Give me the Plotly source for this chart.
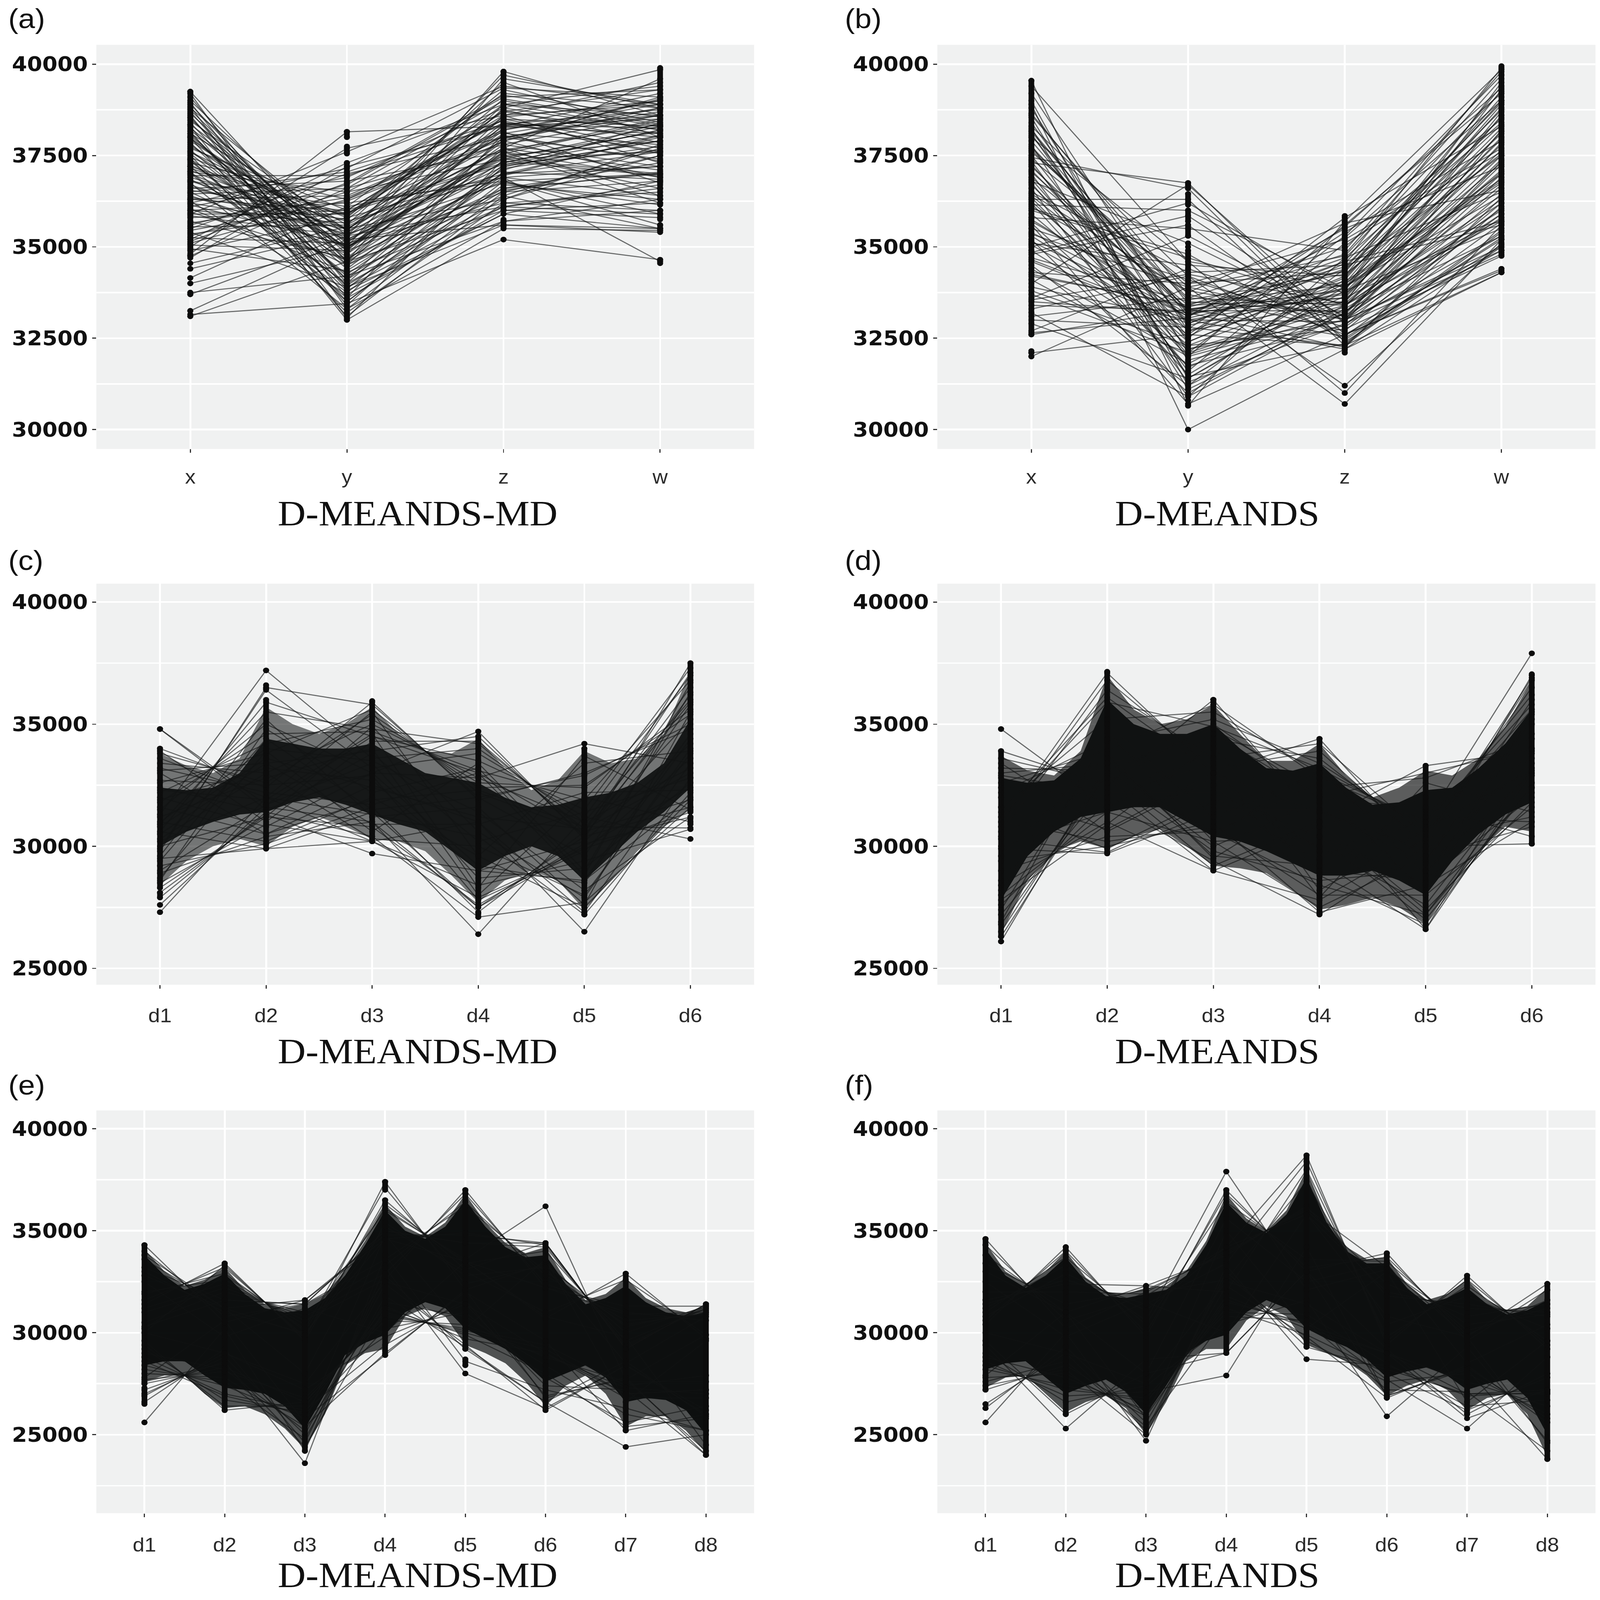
import plotly.graph_objects as go

W, H = 4252, 4608
CAT4 = ["x", "y", "z", "w"]
CAT6 = ["d1", "d2", "d3", "d4", "d5", "d6"]
CAT8 = ["d1", "d2", "d3", "d4", "d5", "d6", "d7", "d8"]
TAGS = ["(a)", "(b)", "(c)", "(d)", "(e)", "(f)"]
CAPS = ["D-MEANDS-MD", "D-MEANDS"] * 3
TICKS_A = [30000, 32500, 35000, 37500, 40000]
MINOR_A = [31250, 33750, 36250, 38750]
TICKS_C = [25000, 30000, 35000, 40000]
MINOR_C = [27500, 32500, 37500]
MINOR_E = [22500, 27500, 32500, 37500]

# values in thousands, one row per polyline
A_ROWS = [
[33.15,33.45,35.2,34.65],[33.25,35.2,35.6,35.5],[33.1,34.6,36.0,36.2],[33.7,35.3,36.1,35.9],[33.75,34.2,35.7,36.3],
[34.0,35.0,36.8,37.0],[34.15,36.1,36.9,36.4],[34.4,35.4,37.5,37.9],[34.7,37.2,38.3,38.1],[34.75,36.6,37.8,37.2],
[34.8,38.15,38.3,38.5],[34.9,35.8,37.0,37.6],[35.0,37.7,38.6,38.9],[35.05,34.9,36.5,36.8],[35.1,36.3,38.4,38.0],
[35.2,37.3,38.9,38.6],[35.25,35.1,36.2,36.0],[35.3,36.5,37.4,37.0],[35.4,33.9,35.6,35.4],[35.5,37.0,38.0,37.4],
[35.55,35.6,37.9,38.8],[35.6,36.7,39.1,39.3],[35.7,34.7,36.6,37.3],[35.8,36.0,37.3,38.2],[35.85,35.3,38.1,37.8],
[35.9,37.6,39.4,38.9],[36.0,36.2,36.8,35.6],[36.05,34.3,36.1,36.6],[36.1,36.9,38.8,38.2],[36.2,35.5,37.7,37.1],
[36.25,33.7,35.9,36.8],[36.3,36.4,38.2,39.0],[36.4,35.0,37.1,38.4],[36.45,36.6,39.0,38.3],[36.5,34.5,36.4,35.5],
[36.55,35.9,38.5,37.7],[36.6,36.8,37.6,36.9],[36.7,35.2,37.2,37.9],[36.75,33.3,35.7,36.0],[36.8,36.1,39.2,38.8],
[36.85,34.8,37.8,38.6],[36.9,35.7,36.9,37.2],[37.0,34.0,36.3,37.5],[37.05,36.5,38.7,38.1],[37.1,35.4,38.3,39.2],
[37.2,33.6,36.0,35.8],[37.25,35.0,37.5,36.6],[37.3,36.3,38.0,38.7],[37.4,34.6,37.0,38.0],[37.45,35.8,39.3,38.4],
[37.5,33.2,36.2,36.5],[37.6,35.5,37.7,39.6],[37.65,34.2,36.6,37.0],[37.7,36.0,38.6,37.3],[37.8,34.9,38.2,38.9],
[37.85,33.8,35.9,35.5],[37.9,35.2,37.3,38.2],[38.0,33.1,36.4,37.7],[38.05,34.4,37.6,38.5],[38.1,35.6,39.5,38.0],
[38.15,33.5,36.7,36.3],[38.2,34.7,37.9,39.1],[38.3,33.0,35.5,35.45],[38.35,35.1,38.4,37.6],[38.55,34.1,36.9,34.6],
[38.6,33.4,37.2,37.9],[38.65,34.8,38.8,39.85],[38.7,33.9,36.1,36.7],[38.8,35.3,39.7,38.8],[38.85,33.05,37.4,38.3],
[38.9,34.5,37.0,37.2],[38.95,33.6,38.1,38.8],[39.0,35.0,39.8,38.6],[39.1,34.0,37.7,36.4],[39.2,33.3,36.5,37.5],
[39.25,34.6,39.6,38.9],[36.15,35.05,37.55,38.45],[36.35,35.75,38.9,39.4],[35.35,35.95,37.25,37.65],[34.95,34.35,36.95,38.05],
[37.15,35.85,38.55,39.0],[37.55,34.25,37.15,37.75],[36.95,36.95,38.35,38.75],[35.65,36.35,38.15,36.75],[37.75,35.45,39.05,38.35],
[36.65,35.35,36.75,36.15],[38.25,34.95,38.25,38.6],[37.35,33.95,36.55,37.05],[35.45,36.25,37.95,39.05],[35.95,34.65,37.35,36.95],
[38.45,35.45,38.75,37.85],[36.5,37.05,38.45,37.55],[37.95,35.15,37.45,38.15],[36.0,35.65,38.05,37.35],[38.75,34.6,38.35,38.25],
[35.15,36.75,39.15,38.55],[37.05,33.75,37.05,36.85],[36.2,37.15,39.35,39.1],[34.55,35.55,37.65,38.35],[38.4,33.85,37.25,38.05],
[38.0,34.5,38.6,39.5],[37.6,35.0,37.6,36.2],[37.2,35.9,38.7,39.3],[38.5,34.9,38.9,38.2],[36.8,35.5,36.3,37.8],
[37.4,33.5,36.8,35.9],[38.1,34.1,38.0,38.6],[35.9,35.9,37.9,36.9],[36.3,36.0,38.5,38.3],[37.0,35.3,37.4,37.6],
]
A_COLS = [[(34.75,38.35),(38.55,39.25)],[(33.0,37.3),(37.55,37.75),(38.0,38.15)],[(36.0,39.8),(35.55,35.75)],[(36.3,39.9),(35.45,35.6),(35.75,36.0),(34.55,34.65)]]
A_DOTS = [[34.4,34.15,34.0,33.75,33.7,33.25,33.1],[],[35.2],[36.2]]

B_ROWS = [
[32.0,33.9,33.0,35.0],[32.1,32.6,32.3,34.3],[32.6,33.3,33.8,35.5],[32.7,34.4,33.0,34.9],[32.9,31.4,33.9,37.0],
[33.0,32.8,32.3,35.4],[33.1,33.6,33.4,36.2],[33.2,30.9,34.7,36.5],[33.3,34.2,32.6,34.4],[33.5,33.2,34.7,38.4],
[33.6,35.3,33.1,35.9],[33.7,32.1,33.5,37.5],[33.9,33.0,32.2,35.0],[34.0,36.7,32.9,34.8],[34.1,31.8,34.0,36.8],
[34.2,33.4,33.6,38.0],[34.3,34.0,35.2,37.7],[34.5,31.2,33.4,35.7],[34.6,32.9,34.4,39.0],[34.7,33.5,33.2,36.6],
[34.8,35.6,32.5,35.2],[34.9,32.2,33.0,38.2],[35.0,36.2,33.7,37.3],[35.1,34.5,34.2,39.4],[35.2,31.0,33.3,36.0],
[35.3,32.6,35.4,37.9],[35.4,33.1,34.6,35.7],[35.5,34.1,32.8,35.9],[35.6,30.7,32.6,34.9],[35.7,33.3,33.5,38.6],
[35.8,35.5,34.9,39.8],[35.9,32.3,33.9,36.4],[36.0,34.7,33.4,37.1],[36.1,33.8,33.1,36.7],[36.2,31.5,34.1,38.8],
[36.3,36.3,32.3,36.1],[36.35,32.0,35.6,39.2],[36.4,33.0,33.7,37.8],[36.5,34.3,34.5,35.6],[36.6,30.9,33.2,37.4],
[36.7,32.5,35.8,38.3],[36.8,35.1,33.0,36.9],[36.9,33.4,34.8,39.6],[37.0,31.3,32.9,35.3],[37.1,32.7,34.0,38.9],
[37.2,33.2,33.6,35.75],[37.3,36.75,32.6,34.35],[37.35,31.6,35.1,37.6],[37.4,34.0,34.3,39.1],[37.5,32.2,33.4,36.3],
[37.6,33.9,30.7,35.2],[37.7,33.6,35.0,38.5],[37.8,31.1,33.2,37.0],[37.9,32.9,34.6,39.9],[38.0,34.6,33.9,36.75],
[38.1,31.9,33.0,35.8],[38.2,33.1,35.5,37.2],[38.3,34.2,31.2,35.1],[38.4,32.4,34.2,38.1],[38.55,31.4,33.8,39.3],
[38.6,33.7,32.7,36.2],[38.8,32.1,35.3,39.7],[38.9,30.0,32.2,34.3],[39.0,31.2,34.4,37.5],[39.2,32.7,33.5,38.7],
[39.4,34.6,31.0,35.6],[39.55,30.65,35.7,39.85],[37.45,36.6,32.4,35.05],[36.15,36.0,33.85,39.5],[34.4,32.0,33.15,37.25],
[33.4,33.25,33.25,35.3],[32.65,33.05,34.05,36.85],[35.75,33.15,33.85,38.15],[37.05,33.3,32.55,35.65],[34.65,33.0,32.95,37.35],
[36.25,32.4,34.15,38.55],[38.15,33.2,32.25,36.35],[35.15,33.1,35.25,39.0],[36.75,31.7,33.65,37.65],[33.8,32.3,32.75,34.75],
[37.75,33.25,34.35,38.35],[34.85,35.85,33.05,36.05],[36.05,34.8,32.45,35.25],[38.05,32.85,33.75,37.95],[35.35,33.9,34.75,39.25],
[37.25,32.55,34.55,38.95],[35.65,31.75,32.85,36.45],[33.55,34.25,33.45,37.05],[38.65,33.45,33.95,38.25],[36.45,33.75,35.65,36.55],
[36.85,32.05,33.35,37.85],[34.25,33.35,34.45,38.75],[38.25,31.45,32.35,35.45],[35.05,32.75,35.55,39.35],[37.65,33.55,34.25,37.55],
]
B_COLS = [[(32.6,39.55)],[(31.1,34.9),(35.3,35.6),(35.7,36.0),(36.15,36.45),(36.6,36.75)],[(32.1,35.85)],[(34.85,39.95),(34.3,34.4)]]
B_DOTS = [[32.0,32.1,32.15],[30.0,30.65,30.8,30.95,35.0],[30.7,31.0,31.2],[]]

C_ROWS = [
[34.8,31.5,33.0,32.8,31.0,33.2],[34.8,31.7,34.5,33.0,30.5,35.2],[34.0,32.4,35.9,31.9,33.0,34.8],[33.8,32.6,35.4,32.4,32.5,35.4],
[31.5,35.0,33.0,34.7,30.3,37.5],[31.8,34.6,34.7,33.1,31.9,36.8],[32.2,34.2,35.2,32.6,32.4,35.6],[32.6,33.8,35.6,32.2,30.6,37.1],
[30.6,35.9,34.5,33.5,31.5,37.3],[30.9,35.5,34.8,34.2,30.7,36.5],[33.4,33.0,35.0,32.8,34.2,33.4],[33.1,33.4,33.9,34.5,30.4,36.2],
[29.8,36.5,35.8,32.0,32.9,35.0],[29.9,36.4,33.2,33.8,31.2,37.0],[31.3,37.2,33.6,34.0,31.0,36.0],[33.9,31.0,34.3,34.3,30.6,35.9],
[28.3,31.2,30.8,27.6,30.1,31.2],[28.5,30.9,30.2,27.9,29.9,31.4],[28.9,30.4,31.0,27.5,30.4,31.6],[29.2,30.1,31.6,27.3,30.6,31.9],
[30.6,29.9,31.4,27.5,30.0,32.4],[29.5,29.9,30.2,31.0,26.5,32.8],[28.1,31.3,29.7,29.0,28.6,32.0],[27.9,31.4,30.4,27.1,27.7,31.6],
[27.6,31.6,31.0,26.4,31.2,30.3],[27.3,32.0,30.2,28.4,29.4,30.7],[30.2,32.0,31.3,30.4,27.2,32.2],[31.0,30.2,32.0,29.6,27.5,31.9],
[31.6,30.5,32.5,31.0,27.3,33.4],[29.0,31.7,33.4,28.7,29.1,32.6],[30.3,33.0,30.3,30.0,28.0,33.8],[32.0,30.8,33.0,29.2,28.5,34.4],
[33.2,32.2,31.7,33.0,28.6,34.6],[30.8,33.6,32.4,31.2,30.7,33.0],[31.2,32.8,34.0,28.0,32.0,31.0],[29.4,34.4,31.5,32.0,29.6,35.8],
[32.4,31.4,33.8,30.2,31.4,32.8],[31.9,33.2,32.7,29.0,30.2,34.2],[28.7,33.9,30.6,33.4,29.0,36.3],[30.0,31.2,34.9,30.6,27.9,34.0],
[33.0,30.5,31.9,32.3,30.8,30.75],[32.7,32.5,32.9,27.8,29.8,33.6],[29.6,35.2,31.2,31.6,27.6,35.5],[31.0,34.0,33.5,31.4,28.2,31.2],
[33.6,32.0,35.5,29.6,33.4,33.9],[28.6,34.8,32.2,33.2,28.8,36.7],[30.5,33.4,30.9,30.9,32.2,32.3],[32.3,31.9,34.6,28.3,33.7,31.5],
]
C_COLS = [[(28.3,34.0),(27.9,28.1)],[(29.9,36.0),(36.45,36.6)],[(30.2,35.95)],[(27.5,34.5),(27.1,27.25)],[(27.2,34.0)],[(31.45,37.0),(37.1,37.5),(30.9,31.15)]]
C_DOTS = [[34.8,27.6,27.3],[37.2],[29.7],[34.7,26.4],[34.2,26.5],[30.7,30.3]]
C_OUT_HI = [33.8,33.3,33.0,33.6,35.7,35.0,34.6,35.0,35.7,34.6,33.9,33.8,34.4,33.2,32.3,32.7,33.9,33.4,33.6,34.6,37.2]
C_OUT_LO = [28.4,29.4,30.0,30.3,30.0,30.8,31.2,30.8,30.3,30.2,29.8,28.8,27.7,28.6,29.0,28.6,27.4,28.6,29.8,30.8,31.5]
C_IN_HI = [32.4,32.3,32.4,33.0,34.4,34.2,34.0,34.0,34.2,33.6,33.0,32.8,32.6,32.0,31.6,31.7,32.0,32.2,32.6,33.4,35.2]
C_IN_LO = [30.0,30.6,31.0,31.3,31.4,31.8,32.0,31.7,31.3,30.9,30.6,29.8,29.0,29.6,30.0,29.6,28.6,29.6,30.6,31.4,32.4]

D_ROWS = [
[34.8,31.6,34.6,32.0,31.5,33.6],[33.9,32.5,36.0,31.0,33.3,33.9],[33.6,32.6,35.0,32.0,33.0,34.0],[31.0,37.1,33.0,34.4,29.6,37.0],
[30.8,36.8,33.2,33.9,30.0,36.8],[30.6,36.4,33.6,34.2,30.4,36.5],[31.2,35.9,34.9,33.2,30.8,36.2],[31.6,35.2,35.5,33.0,31.0,35.8],
[32.6,33.9,35.8,32.8,31.0,37.9],[32.2,34.3,35.2,33.4,30.6,35.6],[33.2,33.1,34.8,32.4,32.8,34.4],[33.0,33.4,34.4,33.6,30.2,36.9],
[26.1,33.4,30.4,33.2,28.8,35.0],[26.3,33.0,30.6,32.6,28.0,35.4],[26.5,33.2,30.0,31.8,26.6,33.8],[26.8,32.9,29.8,28.6,29.0,33.0],
[27.2,32.4,29.0,30.8,27.2,33.0],[27.6,31.8,29.4,27.2,30.0,30.1],[28.0,31.4,30.2,27.5,29.6,30.8],[28.4,31.0,29.0,27.8,30.3,31.2],
[29.0,30.4,30.6,28.4,27.2,32.4],[29.4,30.0,31.0,27.3,28.4,31.0],[29.9,29.7,31.4,28.8,26.8,32.6],[30.3,29.75,31.8,29.4,26.6,32.9],
[31.0,30.2,30.8,28.0,28.0,31.6],[31.6,29.9,32.0,30.0,27.6,33.2],[30.0,31.4,32.5,29.0,28.6,32.0],[32.0,30.7,33.0,29.8,29.0,34.0],
[32.8,31.6,34.0,30.8,32.0,32.2],[32.4,32.0,33.4,27.9,32.6,31.4],[28.2,35.0,31.2,33.0,29.4,35.2],[27.4,34.4,31.5,31.5,29.3,36.0],
[29.6,33.8,29.5,32.2,28.2,34.6],[31.4,36.1,33.0,31.4,29.8,33.4],[26.9,34.7,30.2,30.4,27.0,32.4],[30.4,32.8,29.2,31.0,27.4,31.8],
[33.4,30.6,32.8,29.5,31.6,30.4],[28.6,33.6,29.6,29.2,31.2,31.0],[27.8,30.9,34.2,28.2,30.7,33.1],[32.9,32.2,32.2,30.4,28.5,35.5],
]
D_COLS = [[(26.3,33.9)],[(29.75,37.15)],[(29.0,35.8),(35.9,36.0)],[(27.25,34.4)],[(26.6,33.3)],[(30.1,36.9),(37.0,37.05)]]
D_DOTS = [[34.8,26.1],[],[36.0],[],[],[37.9,30.1]]
D_OUT_HI = [33.7,33.1,32.9,33.9,37.0,35.6,35.0,35.2,35.8,34.6,33.5,33.5,34.2,32.9,32.0,32.4,33.1,32.9,33.6,34.9,36.8]
D_OUT_LO = [26.4,28.6,29.8,30.2,29.9,30.4,30.7,30.0,29.2,29.1,28.9,28.2,27.4,27.6,27.9,27.5,26.8,28.4,29.8,30.8,30.6]
D_IN_HI = [32.8,32.6,32.7,33.6,36.0,35.0,34.6,34.6,35.0,34.0,33.2,33.1,33.4,32.4,31.7,31.8,32.3,32.4,33.2,34.2,35.6]
D_IN_LO = [27.8,29.6,30.6,31.2,31.4,31.6,31.6,31.0,30.4,30.2,29.8,29.3,28.8,28.8,29.0,28.6,28.0,29.4,30.5,31.3,31.8]

E_ROWS = [
[34.3,30.5,31.6,34.8,34.8,34.4,29.2,31.4],[34.0,30.8,31.4,35.0,34.4,34.2,29.4,31.2],[33.6,31.2,31.6,34.6,34.9,34.3,29.3,31.3],
[33.2,31.6,31.4,35.0,34.4,34.4,29.2,31.4],[31.4,33.4,29.6,36.5,33.1,34.4,29.2,31.4],[31.6,33.2,29.8,36.3,33.4,34.0,29.6,31.2],
[31.9,32.9,30.1,36.1,33.5,32.2,31.3,31.3],[32.0,32.6,30.4,36.0,33.6,36.2,27.7,29.9],[30.0,33.3,29.7,37.4,32.1,33.4,30.0,31.3],
[30.2,32.8,30.2,37.1,32.4,33.3,30.3,31.1],[31.2,32.4,30.6,32.6,37.0,32.2,30.9,31.0],[31.0,32.2,30.8,32.9,36.8,32.4,31.0,30.6],
[30.5,32.0,31.0,33.3,36.4,32.8,30.6,30.9],[30.3,31.6,31.4,33.6,36.2,33.0,30.4,31.0],[33.0,31.0,30.0,34.6,33.5,30.7,32.9,29.7],[32.8,31.2,29.9,35.2,33.0,31.0,32.6,29.9],
[27.5,28.3,26.6,30.8,30.2,29.4,27.4,27.9],[27.7,28.1,26.8,30.6,30.4,28.8,27.6,27.6],[29.6,26.2,26.6,30.9,30.1,29.2,27.0,27.2],
[29.4,26.4,26.4,31.0,30.0,28.9,27.3,27.0],[29.2,26.7,26.1,31.3,29.7,29.0,26.8,26.8],[25.6,30.2,24.2,33.2,28.0,26.3,28.4,26.0],
[26.6,29.2,24.6,32.8,29.2,26.6,28.6,25.9],[27.0,28.8,25.0,32.4,29.4,26.2,28.4,26.2],[27.2,28.6,23.6,33.8,28.6,27.2,26.3,25.2],
[28.0,27.8,25.4,29.0,32.0,29.6,25.2,26.0],[28.4,27.4,25.8,28.9,32.1,26.8,27.8,24.0],[28.8,27.0,26.2,29.4,31.6,26.9,27.7,24.2],
[26.9,29.0,27.2,29.8,31.4,27.4,27.2,24.0],[28.2,27.6,24.8,31.8,29.3,26.6,24.4,25.0],[27.6,28.5,24.4,31.2,29.9,28.0,25.4,25.8],
[28.6,26.9,26.0,30.2,31.0,27.8,25.6,26.4],[29.0,28.2,25.2,31.5,30.8,28.4,26.0,25.2],[30.0,29.0,27.5,32.5,31.4,29.0,27.0,27.2],
[33.8,31.2,28.0,35.4,32.8,33.2,28.5,30.8],[32.5,29.8,31.2,30.0,33.5,30.8,29.8,24.5],[27.8,30.6,25.6,34.8,30.2,33.6,26.6,29.6],
]
E_COLS = [[(27.5,34.3),(26.5,27.3)],[(26.2,33.4)],[(24.2,31.6)],[(29.1,36.5),(37.0,37.4)],[(29.2,37.0),(28.4,28.7)],[(26.2,34.4)],[(25.2,32.9)],[(24.0,31.4)]]
E_DOTS = [[25.6],[],[23.6],[28.9],[28.0],[36.2],[24.4],[]]
E_OUT_HI = [34.1,33.0,32.3,32.6,33.2,32.1,31.4,31.2,31.4,31.9,33.0,34.5,36.3,35.2,34.7,35.4,36.8,35.4,34.4,33.9,34.2,32.6,31.6,31.9,32.7,31.7,31.2,31.0,31.3]
E_OUT_LO = [27.6,27.9,27.9,27.0,26.3,26.4,26.0,25.3,24.3,26.0,28.4,29.0,29.2,30.8,31.2,30.8,29.4,29.0,28.5,27.6,26.4,27.4,27.9,27.0,25.4,25.9,25.9,25.2,24.1]
E_IN_HI = [33.8,32.8,32.1,32.4,32.9,31.9,31.2,31.0,31.1,31.7,32.8,34.3,36.0,35.0,34.6,35.2,36.5,35.2,34.2,33.7,33.8,32.4,31.4,31.7,32.3,31.5,31.0,30.8,31.0]
E_IN_LO = [28.4,28.6,28.6,27.9,27.3,27.2,27.0,26.4,25.3,27.0,28.9,29.5,29.9,31.0,31.5,31.2,30.2,29.7,29.2,28.5,27.6,28.0,28.4,27.8,26.6,26.8,26.7,26.2,25.0]

F_ROWS = [
[34.6,30.2,32.0,34.0,36.0,32.4,30.8,31.4],[34.3,30.6,31.8,34.2,35.8,32.0,31.2,31.0],[33.8,31.0,32.3,33.8,36.2,31.8,31.4,30.8],
[33.4,31.4,32.1,33.9,36.1,33.2,29.8,32.4],[30.4,34.2,29.8,37.0,33.0,33.9,29.6,32.1],[30.6,34.0,30.0,36.8,33.2,33.7,29.9,31.6],
[31.0,33.7,30.4,36.4,33.6,33.5,30.1,31.2],[31.2,33.3,30.6,37.9,32.1,33.1,30.4,30.9],[30.8,32.9,31.1,34.2,38.7,29.4,32.8,29.2],
[31.4,32.6,31.4,33.4,38.4,29.6,32.6,29.4],[31.6,32.4,32.3,32.0,38.0,29.8,32.3,29.6],[32.0,32.0,31.9,32.6,37.4,30.4,31.8,30.2],
[27.2,28.4,26.0,31.8,30.2,29.0,27.6,26.4],[27.4,28.2,25.0,33.0,29.3,28.2,27.0,27.0],[26.5,29.0,25.2,32.8,29.6,27.6,28.0,26.0],
[26.3,29.3,25.6,32.3,29.8,26.8,28.4,25.6],[25.6,30.0,24.7,33.3,28.7,28.4,26.9,27.1],[29.6,26.0,28.0,29.0,33.0,29.2,26.0,28.0],
[29.4,25.3,28.7,29.0,33.0,26.9,28.3,25.8],[29.0,26.6,27.4,30.4,31.6,25.9,29.3,24.7],[28.6,26.9,27.1,27.9,34.2,26.9,28.2,23.8],
[28.2,27.4,26.6,31.2,29.9,28.0,26.2,27.8],[27.8,28.0,25.9,31.5,30.5,27.2,27.1,24.2],[27.6,28.6,25.4,30.8,30.6,27.7,25.3,28.8],
[28.4,27.2,26.8,31.0,30.9,28.5,26.4,26.7],[28.8,27.8,26.2,31.6,30.4,29.0,25.8,27.2],[30.0,29.0,27.5,32.5,31.4,29.0,27.0,27.2],
[33.0,31.0,28.0,35.6,32.5,33.4,28.5,30.4],[32.5,29.8,31.5,30.0,35.8,30.8,29.8,24.6],[27.9,31.0,25.8,35.0,30.2,33.0,26.6,29.6],
]
F_COLS = [[(27.2,34.6)],[(26.0,34.2)],[(25.0,32.3)],[(29.0,37.0)],[(29.3,38.7)],[(26.8,33.9)],[(26.0,32.8)],[(23.8,32.4)]]
F_DOTS = [[26.5,26.3,25.6],[25.3],[24.7],[37.9,27.9],[28.7],[25.9],[25.3],[]]
F_OUT_HI = [34.4,33.0,32.4,33.0,34.0,32.7,32.0,31.9,32.2,32.3,33.0,34.5,36.8,35.6,35.0,36.0,38.0,35.6,34.2,33.6,33.7,32.4,31.6,31.9,32.6,31.6,31.1,31.3,32.2]
F_OUT_LO = [27.3,27.8,27.9,27.0,26.1,26.6,26.9,26.3,25.0,26.6,28.6,29.2,29.2,30.6,31.3,30.8,29.4,29.0,28.6,27.9,26.9,27.4,27.7,27.2,26.2,26.8,27.0,26.0,23.9]
F_IN_HI = [34.1,32.8,32.2,32.8,33.7,32.5,31.8,31.7,31.9,32.1,32.8,34.3,36.4,35.4,34.9,35.8,37.6,35.4,34.0,33.4,33.4,32.2,31.4,31.7,32.2,31.4,30.9,31.1,31.6]
F_IN_LO = [28.2,28.5,28.6,27.8,27.0,27.4,27.7,27.1,26.0,27.4,29.0,29.6,29.9,31.0,31.6,31.2,30.2,29.7,29.3,28.7,27.8,28.1,28.3,27.9,27.2,27.5,27.7,26.8,25.0]

PANELS = [
 dict(cats=CAT4, rows=A_ROWS, cols=A_COLS, dots=A_DOTS, band=None, ticks=TICKS_A, minor=MINOR_A, yr=(29469,40531), box=(256,2004,129,1293), so=22),
 dict(cats=CAT4, rows=B_ROWS, cols=B_COLS, dots=B_DOTS, band=None, ticks=TICKS_A, minor=MINOR_A, yr=(29469,40531), box=(2491,4240,129,1293), so=22),
 dict(cats=CAT6, rows=C_ROWS, cols=C_COLS, dots=C_DOTS, band=(C_OUT_HI,C_OUT_LO,C_IN_HI,C_IN_LO), alphas=(0.55,0.9), ticks=TICKS_C, minor=MINOR_C, yr=(24331,40752), box=(256,2004,1681,2836), so=30),
 dict(cats=CAT6, rows=D_ROWS, cols=D_COLS, dots=D_DOTS, band=(D_OUT_HI,D_OUT_LO,D_IN_HI,D_IN_LO), alphas=(0.65,0.95), ticks=TICKS_C, minor=MINOR_C, yr=(24331,40752), box=(2491,4240,1681,2836), so=30),
 dict(cats=CAT8, rows=E_ROWS, cols=E_COLS, dots=E_DOTS, band=(E_OUT_HI,E_OUT_LO,E_IN_HI,E_IN_LO), alphas=(0.7,0.98), ticks=TICKS_C, minor=MINOR_E, yr=(21150,40900), box=(256,2004,3198,4358), so=32),
 dict(cats=CAT8, rows=F_ROWS, cols=F_COLS, dots=F_DOTS, band=(F_OUT_HI,F_OUT_LO,F_IN_HI,F_IN_LO), alphas=(0.7,0.98), ticks=TICKS_C, minor=MINOR_E, yr=(21150,40900), box=(2491,4240,3198,4358), so=32),
]
TAG_POS = [(20,53),(2243,53),(20,1613),(2243,1613),(20,3124),(2243,3124)]
CAP_POS = [(1110,1478),(3235,1478),(1110,3027),(3235,3027),(1110,4536),(3235,4536)]

fig = go.Figure()
layout = dict(width=W, height=H, margin=dict(l=0, r=0, t=0, b=0), paper_bgcolor="white",
              plot_bgcolor="#f0f1f1", showlegend=False, annotations=[])
for i, p in enumerate(PANELS):
    s = "" if i == 0 else str(i + 1)
    xa, ya = "x" + s, "y" + s
    n = len(p["cats"])
    pos = list(range(1, n + 1))
    if p["band"]:
        xs = [1 + k * 0.25 for k in range(4 * n - 3)]
        hi, lo, ihi, ilo = p["band"]
        a0, a1 = p["alphas"]
        for up, dn, alpha in ((hi, lo, a0), (ihi, ilo, a1)):
            fig.add_trace(go.Scatter(x=xs + xs[::-1], y=[v * 1000 for v in up] + [v * 1000 for v in dn[::-1]],
                                     mode="lines", line=dict(width=0), fill="toself",
                                     fillcolor=f"rgba(12,14,14,{alpha})", hoverinfo="skip", xaxis=xa, yaxis=ya))
    for row in p["rows"]:
        fig.add_trace(go.Scatter(x=pos, y=[v * 1000 for v in row], mode="lines",
                                 line=dict(color="rgba(18,20,20,0.62)", width=3), hoverinfo="skip", xaxis=xa, yaxis=ya))
    for k, spans in enumerate(p["cols"]):
        for lo_, hi_ in spans:
            fig.add_trace(go.Scatter(x=[k + 1, k + 1], y=[lo_ * 1000, hi_ * 1000], mode="lines+markers",
                                     line=dict(color="#0c0c0c", width=15), marker=dict(color="#0c0c0c", size=16),
                                     hoverinfo="skip", xaxis=xa, yaxis=ya))
    px, py = [], []
    for row in p["rows"]:
        for k, v in enumerate(row):
            px.append(k + 1); py.append(v * 1000)
    for k, ds in enumerate(p["dots"]):
        for v in ds:
            px.append(k + 1); py.append(v * 1000)
    fig.add_trace(go.Scatter(x=px, y=py, mode="markers", marker=dict(color="#0c0c0c", size=16),
                             hoverinfo="skip", xaxis=xa, yaxis=ya))
    l, r, t, b = p["box"]
    layout["xaxis" + s] = dict(domain=[l / W, r / W], range=[0.4, n + 0.6], anchor=ya, tickmode="array",
                               tickvals=pos, ticktext=p["cats"], showgrid=True, gridcolor="white", gridwidth=5,
                               zeroline=False, showline=False, ticks="outside", ticklen=10, tickwidth=3, tickcolor="#333333",
                               ticklabelstandoff=p["so"],
                               tickfont=dict(family="Liberation Sans", size=56, color="#2b2b2b"))
    layout["yaxis" + s] = dict(domain=[1 - b / H, 1 - t / H], range=list(p["yr"]), anchor=xa, tickmode="array",
                               tickvals=p["ticks"], ticktext=[str(v) for v in p["ticks"]], showgrid=True,
                               gridcolor="white", gridwidth=5, zeroline=False, showline=False,
                               ticks="outside", ticklen=10, tickwidth=3, tickcolor="#333333",
                               minor=dict(tickvals=p["minor"], showgrid=True, gridcolor="white", gridwidth=4, ticks=""),
                               tickfont=dict(family="DejaVu Sans", size=58, color="#111111", weight=700))
    tx, ty = TAG_POS[i]
    layout["annotations"].append(dict(text=TAGS[i], xref="paper", yref="paper", x=tx / W, y=1 - ty / H, xanchor="left",
                                      yanchor="middle", showarrow=False, font=dict(family="Liberation Sans", size=80, color="#111111")))
    cx, cy = CAP_POS[i]
    layout["annotations"].append(dict(text=CAPS[i], xref="paper", yref="paper", x=cx / W, y=1 - cy / H, xanchor="center",
                                      yanchor="middle", showarrow=False, font=dict(family="Liberation Serif", size=103, color="#111111")))
fig.update_layout(**layout)
FIT_JS = """
document.documentElement.style.overflow='hidden';
document.body.style.margin='0';
document.body.style.width='%dpx';
document.body.style.transformOrigin='0 0';
document.body.style.transform='scale('+(window.innerWidth/%d)+','+(window.innerHeight/%d)+')';
""" % (W, W, H)
fig.write_html("out.html", config=dict(displayModeBar=False), post_script=FIT_JS)
